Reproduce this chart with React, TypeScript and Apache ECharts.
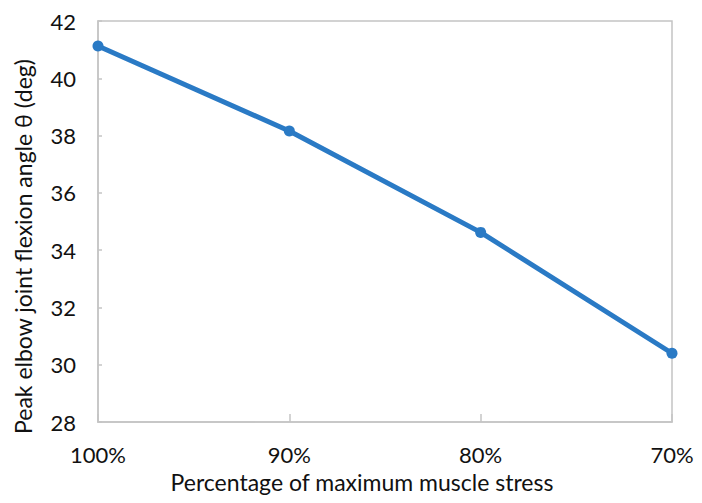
import React, { useEffect, useRef } from "react";
import * as echarts from "echarts";

const categories = ["100%", "90%", "80%", "70%"];
const angleValues = [41.13, 38.16, 34.62, 30.4];
const yMin = 28;
const yMax = 42;
const yInterval = 2;

const FONT = "Lato";
const TEXT = "#111111";
const AXIS = "#c4c4c4";

export default function App() {
  const ref = useRef<HTMLDivElement>(null);
  useEffect(() => {
    document.body.style.margin = "0";
    if (!ref.current) return;
    const chart = echarts.init(ref.current, undefined, { renderer: "svg" });
    chart.setOption({
      animation: false,
      backgroundColor: "#ffffff",
      grid: {
        left: 98,
        right: 30,
        top: 21,
        bottom: 81,
        show: true,
        borderColor: AXIS,
        borderWidth: 1.5,
      },
      xAxis: {
        type: "category",
        data: categories,
        boundaryGap: false,
        name: "Percentage of maximum muscle stress",
        nameLocation: "middle",
        nameGap: 48,
        nameTextStyle: { fontFamily: FONT, fontSize: 23, color: TEXT, padding: [0, 46, 0, 0] },
        axisLine: { show: true, lineStyle: { color: AXIS, width: 1.5 } },
        axisTick: { show: true, inside: true, length: 8, lineStyle: { color: AXIS, width: 1.5 } },
        axisLabel: { fontFamily: FONT, fontSize: 22, color: TEXT, margin: 21 },
        splitLine: { show: false },
      },
      yAxis: {
        type: "value",
        min: yMin,
        max: yMax,
        interval: yInterval,
        name: "Peak elbow joint flexion angle θ (deg)",
        nameLocation: "middle",
        nameGap: 64,
        nameTextStyle: { fontFamily: FONT, fontSize: 23, color: TEXT, padding: [0, 50, 0, 0] },
        axisLine: { show: true, lineStyle: { color: AXIS, width: 1.5 } },
        axisTick: { show: true, inside: true, length: 4, lineStyle: { color: AXIS, width: 1.5 } },
        axisLabel: { fontFamily: FONT, fontSize: 22, color: TEXT, margin: 22 },
        splitLine: { show: false },
      },
      series: [
        {
          type: "line",
          data: angleValues,
          symbol: "circle",
          symbolSize: 11,
          lineStyle: { color: "#2a7ac5", width: 5 },
          itemStyle: { color: "#2a7ac5" },
        },
      ],
    });
    return () => chart.dispose();
  }, []);
  return <div ref={ref} style={{ width: 702, height: 503 }} />;
}
